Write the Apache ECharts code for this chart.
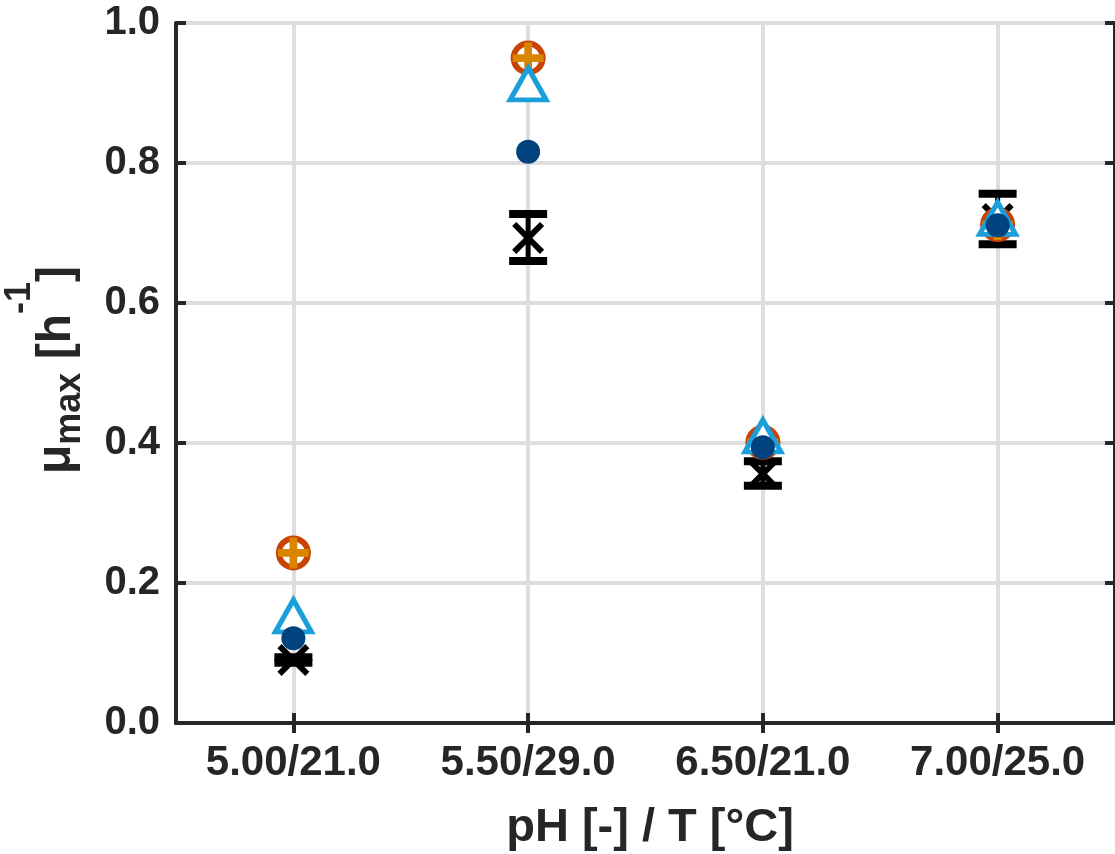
<!DOCTYPE html>
<html>
<head>
<meta charset="utf-8">
<style>
  html, body { margin: 0; padding: 0; background: #ffffff; }
  #chart { width: 1115px; height: 854px; }
</style>
<script src="https://cdn.jsdelivr.net/npm/echarts@6/dist/echarts.min.js"></script>
</head>
<body>
<div id="chart"></div>
<script>
// Conditions: pH [-] / T [°C]
const categories = ['5.00/21.0', '5.50/29.0', '6.50/21.0', '7.00/25.0'];

// Measured growth rate with its error range
const measured     = [0.090, 0.693, 0.356, 0.720];
const measuredLow  = [0.086, 0.660, 0.339, 0.684];
const measuredHigh = [0.094, 0.727, 0.374, 0.756];

// Predicted growth rates (three models)
const modelCircle   = [0.243, 0.950, 0.401, 0.712];
const modelTriangle = [0.153, 0.913, 0.410, 0.721];
const modelDot      = [0.121, 0.816, 0.394, 0.711];

// Y axis ticks
const yTicks = [0, 0.2, 0.4, 0.6, 0.8, 1.0];

const FONT = '"Liberation Sans", Arial, Helvetica, sans-serif';
const INK = '#262626';
const GRID = '#DEDEDE';

const chart = echarts.init(document.getElementById('chart'), null, { renderer: 'canvas' });

const crossPath = 'path://M0,13L13,0L50,37L87,0L100,13L63,50L100,87L87,100L50,63L13,100L0,87L37,50Z';
const plusPath  = 'path://M37.5,0H62.5V37.5H100V62.5H62.5V100H37.5V62.5H0V37.5H37.5Z';

// Y axis title: mu_max [h^-1], built from pieces and rotated
const measureCtx = document.createElement('canvas').getContext('2d');
function textWidth(t, size) {
  measureCtx.font = 'bold ' + size + 'px ' + FONT;
  return measureCtx.measureText(t).width;
}
const titlePieces = [
  { t: '\u03bc', s: 48, dy: 0 },
  { t: 'max', s: 36, dy: 10 },
  { t: ' [h', s: 48, dy: 0 },
  { t: '-1', s: 36, dy: -40 },
  { t: ']', s: 48, dy: 0 }
];
const titleTotal = titlePieces.reduce((acc, p) => acc + textWidth(p.t, p.s), 0);
let cursor = 0;
const titleChildren = titlePieces.map(p => {
  const el = {
    type: 'text',
    x: cursor,
    y: p.dy - 0.3465 * p.s,
    style: {
      text: p.t,
      font: 'bold ' + p.s + 'px ' + FONT,
      fill: INK,
      align: 'left', textAlign: 'left',
      verticalAlign: 'middle', textVerticalAlign: 'middle'
    }
  };
  cursor += textWidth(p.t, p.s);
  return el;
});

const option = {
  animation: false,
  backgroundColor: '#ffffff',
  grid: { left: 176, top: 23, width: 943, height: 700, containLabel: false },
  xAxis: [
    {
      type: 'category', data: categories, position: 'bottom', z: 1,
      boundaryGap: true,
      axisLine: { show: true, lineStyle: { color: INK, width: 4 } },
      axisTick: { show: true, inside: true, alignWithLabel: true, length: 10, lineStyle: { color: INK, width: 4 } },
      axisLabel: { show: true, margin: 19, color: INK, fontFamily: FONT, fontWeight: 'bold', fontSize: 42 },
      splitLine: { show: false }
    },
    {
      type: 'category', data: categories, position: 'top', z: 1,
      boundaryGap: true,
      axisLine: { show: true, lineStyle: { color: INK, width: 4 } },
      axisTick: { show: true, inside: true, alignWithLabel: true, length: 10, lineStyle: { color: INK, width: 4 } },
      axisLabel: { show: false },
      splitLine: { show: false }
    }
  ],
  yAxis: [
    {
      type: 'value', min: yTicks[0], max: yTicks[yTicks.length - 1], interval: 0.2, position: 'left', z: 1,
      axisLine: { show: true, lineStyle: { color: INK, width: 4 } },
      axisTick: { show: true, inside: true, length: 10, lineStyle: { color: INK, width: 4 } },
      axisLabel: {
        show: true, margin: 16, color: INK, fontFamily: FONT, fontWeight: 'bold', fontSize: 40,
        formatter: v => v.toFixed(1)
      },
      splitLine: { show: true, lineStyle: { color: GRID, width: 4 } }
    },
    {
      type: 'value', min: yTicks[0], max: yTicks[yTicks.length - 1], interval: 0.2, position: 'right', z: 1,
      axisLine: { show: true, onZero: false, lineStyle: { color: INK, width: 4 } },
      axisTick: { show: true, inside: true, length: 10, lineStyle: { color: INK, width: 4 } },
      axisLabel: { show: false },
      splitLine: { show: false }
    }
  ],
  graphic: [
    {
      type: 'text',
      x: 650, y: 828,
      style: {
        text: 'pH [-] / T [\u00b0C]',
        font: 'bold 47px ' + FONT,
        fill: INK,
        align: 'center', textAlign: 'center',
        verticalAlign: 'middle', textVerticalAlign: 'middle'
      }
    },
    {
      type: 'group',
      x: 73,
      y: 370 + titleTotal / 2,
      rotation: Math.PI / 2,
      children: titleChildren
    }
  ],
  series: [
    // vertical grid lines through each category, kept beneath the marks
    {
      type: 'scatter', z: 0, silent: true,
      data: [],
      markLine: {
        z: 0,
        silent: true, symbol: 'none', animation: false,
        label: { show: false },
        lineStyle: { color: GRID, width: 4, type: 'solid' },
        data: categories.map(c => ({ xAxis: c }))
      }
    },
    // error bars of the measurement
    {
      type: 'custom', z: 3,
      data: categories.map((c, i) => [i, measuredLow[i], measuredHigh[i]]),
      encode: { x: 0, y: [1, 2] },
      renderItem: function (params, api) {
        const top = api.coord([api.value(0), api.value(2)]);
        const bot = api.coord([api.value(0), api.value(1)]);
        const half = 19;
        const style = { stroke: '#000000', lineWidth: 8, fill: null };
        return {
          type: 'group',
          children: [
            { type: 'line', shape: { x1: top[0], y1: top[1], x2: bot[0], y2: bot[1] }, style: { stroke: '#000000', lineWidth: 5 } },
            { type: 'line', shape: { x1: top[0] - half, y1: top[1], x2: top[0] + half, y2: top[1] }, style: style },
            { type: 'line', shape: { x1: bot[0] - half, y1: bot[1], x2: bot[0] + half, y2: bot[1] }, style: style }
          ]
        };
      }
    },
    // measured value (cross)
    {
      type: 'scatter', z: 3,
      data: measured.map((v, i) => [i, v]),
      symbol: crossPath, symbolSize: 32,
      itemStyle: { color: '#000000', opacity: 1 }
    },
    // model: ring with plus
    {
      type: 'scatter', z: 4,
      data: modelCircle.map((v, i) => [i, v]),
      symbol: 'circle', symbolSize: 29,
      itemStyle: { color: '#ffffff', borderColor: '#C84406', borderWidth: 6, opacity: 1 }
    },
    {
      type: 'scatter', z: 4,
      data: modelCircle.map((v, i) => [i, v]),
      symbol: plusPath, symbolSize: 31,
      itemStyle: { color: '#D98500', opacity: 1 }
    },
    // model: open triangle
    {
      type: 'scatter', z: 5,
      data: modelTriangle.map((v, i) => [i, v]),
      symbol: 'triangle', symbolSize: [36, 32],
      itemStyle: { color: '#ffffff', borderColor: '#1A9FDB', borderWidth: 5, opacity: 1 }
    },
    // model: filled dot
    {
      type: 'scatter', z: 6,
      data: modelDot.map((v, i) => [i, v]),
      symbol: 'circle', symbolSize: 24,
      itemStyle: { color: '#01437F', opacity: 1 }
    }
  ]
};

chart.setOption(option);
</script>
</body>
</html>
